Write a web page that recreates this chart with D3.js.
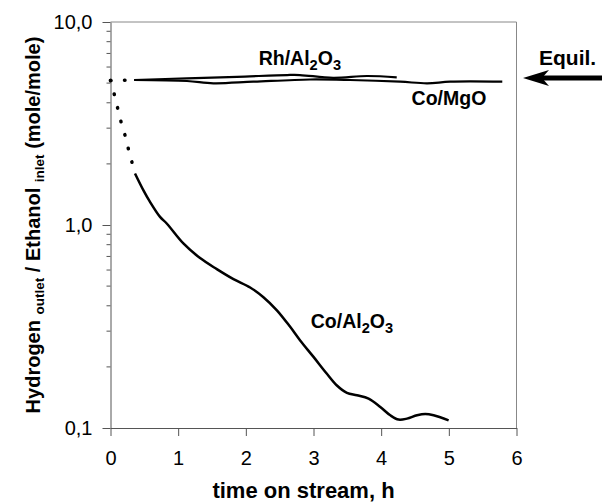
<!DOCTYPE html>
<html><head><meta charset="utf-8">
<script src="https://cdn.jsdelivr.net/npm/d3@7"></script>
<style>body{margin:0;background:#fff} svg{display:block;font-family:"Liberation Sans",Arial,sans-serif}</style>
</head><body>
<svg id="c" width="602" height="503"></svg>
<script>
// ---- data ----
const xTicks = [0, 1, 2, 3, 4, 5, 6];
const yTicks = [0.1, 1, 10];
const yTickLabels = ["0,1", "1,0", "10,0"];
const yMinorTicks = [0.2,0.3,0.4,0.5,0.6,0.7,0.8,0.9,2,3,4,5,6,7,8,9];

const rhTime  = [0.35, 1.13, 1.87, 2.61, 2.80, 3.29, 3.79, 4.23];
const rhValue = [5.18, 5.28, 5.37, 5.48, 5.48, 5.31, 5.42, 5.34];

const mgoTime  = [0.35, 1.13, 1.52, 2.11, 2.95, 3.54, 4.28, 4.68, 5.02, 5.79];
const mgoValue = [5.18, 5.12, 4.99, 5.08, 5.21, 5.18, 5.08, 4.99, 5.08, 5.08];

const startTime  = [0, 0.35];
const startValue = [5.15, 5.18];

const alInitTime  = [0, 0.056, 0.155, 0.214, 0.263, 0.322, 0.362];
const alInitValue = [5.15, 4.40, 3.23, 2.77, 2.38, 2.01, 1.795];

const alTime  = [0.362,0.485,0.584,0.732,0.831,1.077,1.324,1.571,1.817,2.064,2.26,2.459,2.655,2.803,3.0,3.198,3.346,3.494,3.642,3.814,3.987,4.135,4.257,4.382,4.53,4.652,4.775,4.997];
const alValue = [1.795,1.486,1.30,1.096,1.017,0.811,0.687,0.606,0.541,0.492,0.441,0.380,0.315,0.270,0.224,0.185,0.162,0.149,0.145,0.1396,0.127,0.1155,0.110,0.1112,0.1155,0.1172,0.1155,0.109];

const equilValue = 5.3;

// ---- layout ----
const svg = d3.select("#c");
const L = 110.5, R = 516.5, T = 22, B = 428;
const x = d3.scaleLinear().domain([0, 6]).range([L, R]);
const y = d3.scaleLog().domain([0.1, 10]).range([B, T]);

const zip = (a, b) => a.map((d, i) => [d, b[i]]);
const line = d3.line().x(d => x(d[0])).y(d => y(d[1])).curve(d3.curveCatmullRom.alpha(0.5));
const FONT = "Liberation Sans, Arial, sans-serif";

// frame
svg.append("path")
  .attr("d", `M${L},${T}H${R}V${B}`)
  .attr("fill", "none").attr("stroke", "#888").attr("stroke-width", 1);

// x axis
const gx = svg.append("g").attr("transform", `translate(0,${B})`)
  .call(d3.axisBottom(x).tickValues(xTicks).tickFormat(d3.format("d")).tickSize(8).tickSizeOuter(0));
gx.select(".domain").attr("stroke", "#555");
gx.selectAll(".tick line").attr("stroke", "#555");
gx.selectAll(".tick text").attr("font-size", 20).attr("fill", "#000")
  .attr("y", 37).attr("dy", 0).attr("font-family", FONT);

// y axis
const gy = svg.append("g").attr("transform", `translate(${L},0)`)
  .call(d3.axisLeft(y).tickValues(yTicks).tickFormat((d, i) => yTickLabels[i]).tickSize(8).tickSizeOuter(0).tickPadding(10));
gy.select(".domain").attr("stroke", "#555");
gy.selectAll(".tick line").attr("stroke", "#555");
gy.selectAll(".tick text").attr("font-size", 20).attr("fill", "#000").attr("font-family", FONT);
gy.selectAll(".minor").data(yMinorTicks).enter().append("line")
  .attr("x1", -4).attr("x2", 0).attr("y1", d => y(d)).attr("y2", d => y(d))
  .attr("stroke", "#555");

// series
const dotted = (data) => svg.append("path").attr("d", line(data))
  .attr("fill", "none").attr("stroke", "#000").attr("stroke-width", 3.5)
  .attr("stroke-linecap", "round").attr("stroke-dasharray", "0.5,13.5");
dotted(zip(startTime, startValue));
dotted(zip(alInitTime, alInitValue));

svg.append("path").attr("d", line(zip(rhTime, rhValue)))
  .attr("fill", "none").attr("stroke", "#000").attr("stroke-width", 2.2);
svg.append("path").attr("d", line(zip(mgoTime, mgoValue)))
  .attr("fill", "none").attr("stroke", "#000").attr("stroke-width", 2.2);
svg.append("path").attr("d", line(zip(alTime, alValue)))
  .attr("fill", "none").attr("stroke", "#000").attr("stroke-width", 2.5);

// labels
function label(px, py, parts, size) {
  const t = svg.append("text").attr("x", px).attr("y", py)
    .attr("font-size", size).attr("font-weight", "bold").attr("fill", "#000");
  let shifted = false;
  parts.forEach(p => {
    const sub = typeof p !== "string";
    const s = t.append("tspan").text(sub ? p.sub : p);
    if (sub && !shifted) { s.attr("dy", 5).attr("font-size", size * 0.75); shifted = true; }
    else if (sub) { s.attr("font-size", size * 0.75); }
    else if (shifted) { s.attr("dy", -5); shifted = false; }
  });
  return t;
}
label(x(2.19), y(6.14), ["Rh/Al", {sub: "2"}, "O", {sub: "3"}], 19.5);
label(x(4.45), y(3.9), ["Co/MgO"], 19.5);
label(x(2.96), y(0.31), ["Co/Al", {sub: "2"}, "O", {sub: "3"}], 19.5);

// equilibrium arrow
const ay = y(equilValue);
svg.append("path")
  .attr("d", `M602,${ay}H540`)
  .attr("stroke", "#000").attr("stroke-width", 5);
svg.append("path")
  .attr("d", `M523,${ay}L549,${ay - 8}L542,${ay}L549,${ay + 8}Z`)
  .attr("fill", "#000");
svg.append("text").attr("x", 539).attr("y", 65).attr("font-size", 21)
  .attr("font-weight", "bold").text("Equil.");

// axis titles
svg.append("text").attr("x", (L + R) / 2 - 10).attr("y", 498).attr("text-anchor", "middle")
  .attr("font-size", 22).attr("font-weight", "bold").text("time on stream, h");

const yt = svg.append("text").attr("transform", `translate(40,${(T + B) / 2}) rotate(-90)`)
  .attr("text-anchor", "middle").attr("font-size", 20).attr("font-weight", "bold");
yt.append("tspan").text("Hydrogen ");
yt.append("tspan").attr("font-size", 13.5).attr("dy", 4).text("outlet");
yt.append("tspan").attr("dy", -4).text(" / Ethanol ");
yt.append("tspan").attr("font-size", 13.5).attr("dy", 4).text("inlet");
yt.append("tspan").attr("dy", -4).text(" (mole/mole)");
</script>
</body></html>
